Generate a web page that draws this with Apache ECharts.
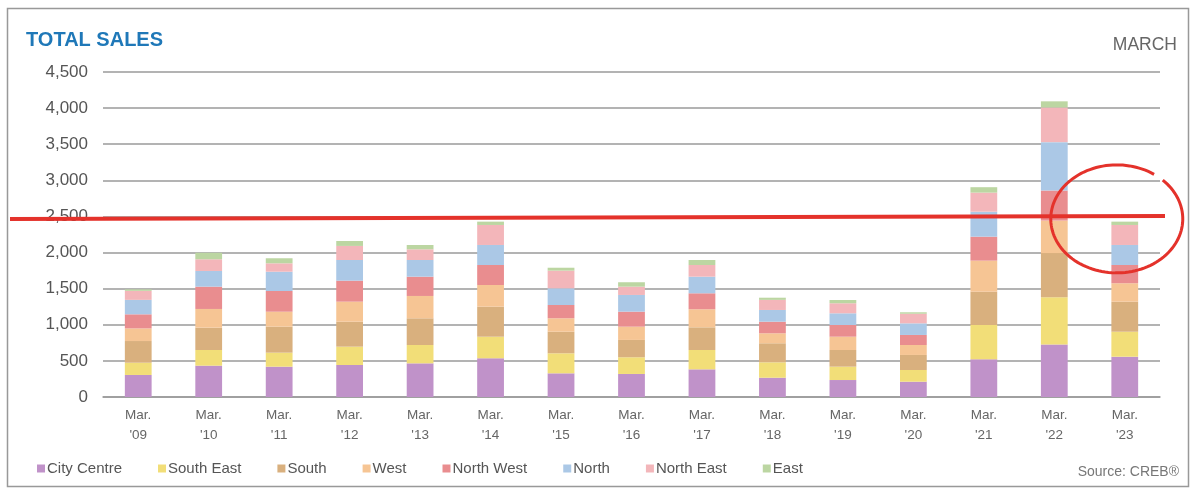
<!DOCTYPE html>
<html><head><meta charset="utf-8">
<script src="https://cdn.jsdelivr.net/npm/echarts@6/dist/echarts.min.js"></script>
<style>html,body{margin:0;padding:0;background:#fff}#c{width:1196px;height:491px}</style>
</head><body><div id="c"></div>
<script>
const categories = ["Mar.\n'09","Mar.\n'10","Mar.\n'11","Mar.\n'12","Mar.\n'13","Mar.\n'14","Mar.\n'15","Mar.\n'16","Mar.\n'17","Mar.\n'18","Mar.\n'19","Mar.\n'20","Mar.\n'21","Mar.\n'22","Mar.\n'23"];
const cityCentre = [305,434,420,443,466,536,328,319,383,267,235,212,522,727,558];
const southEast  = [170,217,194,254,254,299,277,231,268,213,185,162,475,655,346];
const south      = [300,309,360,346,370,416,299,240,314,264,231,208,461,611,416];
const west       = [175,259,207,277,309,300,186,184,250,138,184,138,430,450,255];
const northWest  = [195,309,287,291,267,277,184,208,221,161,162,139,332,416,253];
const north      = [200,217,267,286,231,277,231,231,230,162,162,161,346,670,277];
const northEast  = [125,162,116,195,148,277,245,115,162,140,139,133,264,480,277];
const east       = [20,90,70,68,60,46,40,61,69,30,45,20,75,85,46];
const yTicks = [0,500,1000,1500,2000,2500,3000,3500,4000,4500];
const seriesNames = ["City Centre","South East","South","West","North West","North","North East","East"];
const seriesData = [cityCentre,southEast,south,west,northWest,north,northEast,east];
const colors = ["#c092c9","#f2de78","#d9b07e","#f6c594","#e98d8f","#abc8e6","#f3b6ba","#bcd6a2"];
const highlightValue = 2480;

const chart = echarts.init(document.getElementById('c'));
const font = "'Liberation Sans', Arial, sans-serif";
chart.setOption({
  animation:false,
  color: colors,
  textStyle:{fontFamily:font},
  grid:{left:103,right:36,top:72,bottom:94,containLabel:false},
  title:[
    {text:'TOTAL SALES',left:21,top:25,textStyle:{fontFamily:font,fontSize:20,fontWeight:'bold',color:'#1f78b8'}},
    {text:'MARCH',right:14,top:31,textStyle:{fontFamily:font,fontSize:17.5,fontWeight:'normal',color:'#666'}},
    {text:'Source: CREB®',right:12,top:460,textStyle:{fontFamily:font,fontSize:14,fontWeight:'normal',color:'#777'}}
  ],
  legend:{left:32,top:456,icon:'rect',itemWidth:8,itemHeight:8,itemGap:36,
    textStyle:{fontFamily:font,fontSize:15,color:'#555',padding:[0,0,0,-3]},
    data:seriesNames},
  xAxis:{type:'category',data:categories,
    axisLine:{show:true,lineStyle:{color:'#9a9a9a',width:1.5}},
    axisTick:{show:false},
    axisLabel:{color:'#666',fontSize:13.5,lineHeight:20,margin:8,fontFamily:font}},
  yAxis:{type:'value',min:yTicks[0],max:yTicks[yTicks.length-1],interval:500,
    axisLine:{show:false},axisTick:{show:false},
    splitLine:{lineStyle:{color:'#9a9a9a',width:1.5}},
    axisLabel:{color:'#555',fontSize:17,margin:15,fontFamily:font,
      formatter:v=>v.toLocaleString('en-US')}},
  series: seriesNames.map((n,i)=>({name:n,type:'bar',stack:'t',data:seriesData[i],barWidth:'38%'}))
});

// hand-drawn red annotation (line + circle), positioned via axis conversion
const yPx = chart.convertToPixel({yAxisIndex:0}, highlightValue);
const lastX = chart.convertToPixel({xAxisIndex:0}, categories.length-1);
const cx = lastX - 8, cy = yPx + 1, rx = 66, ry = 54;
const pts = [];
const a0 = -0.80, a1 = -0.97 + 2*Math.PI;
for (let k=0;k<=120;k++){
  const a = a0 + (a1-a0)*k/120;
  pts.push([cx + rx*Math.cos(a), cy + ry*Math.sin(a)]);
}
chart.setOption({graphic:[
  {type:'rect',shape:{x:7.5,y:8.5,width:1181,height:478},style:{fill:'none',stroke:'#999',lineWidth:1.5},silent:true},
  {type:'line',shape:{x1:10,y1:yPx+1,x2:1165,y2:yPx-2},style:{stroke:'#e4322b',lineWidth:4},z:100},
  {type:'polyline',shape:{points:pts},style:{stroke:'#e4322b',lineWidth:3,fill:'none'},z:100}
]});
</script>
</body></html>
